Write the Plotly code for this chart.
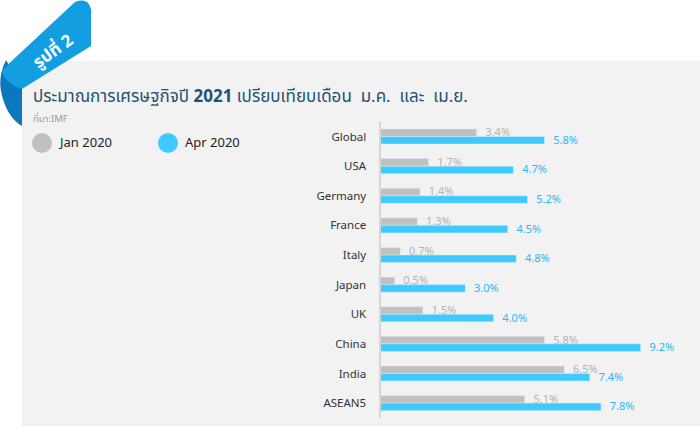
import plotly.graph_objects as go

W, H = 700, 426

countries = ["Global", "USA", "Germany", "France", "Italy",
             "Japan", "UK", "China", "India", "ASEAN5"]
jan_2020 = [3.4, 1.7, 1.4, 1.3, 0.7, 0.5, 1.5, 5.8, 6.5, 5.1]
apr_2020 = [5.8, 4.7, 5.2, 4.5, 4.8, 3.0, 4.0, 9.2, 7.4, 7.8]

GRAY = "#c0c0c0"
BLUE = "#3fcaff"
FONT = "Noto Sans Thai, Noto Sans, Roboto, sans-serif"


def px(x, y):
    # pixel position -> paper coords (margins are zero)
    return x / W, 1 - y / H


def path(points):
    out = []
    for cmd, pts in points:
        coords = " ".join("%.4f,%.4f" % px(*p) for p in pts)
        out.append(cmd + " " + coords)
    return " ".join(out) + " Z"


fig = go.Figure()

fig.add_trace(go.Bar(
    y=countries, x=jan_2020, orientation="h", name="Jan 2020",
    marker_color=GRAY,
    text=["  %.1f%%" % v for v in jan_2020], textposition="outside",
    textfont=dict(color="#b3b3b3", size=11, family=FONT),
    constraintext="none", cliponaxis=False, hoverinfo="none",
))
fig.add_trace(go.Bar(
    y=countries, x=apr_2020, orientation="h", name="Apr 2020",
    marker_color=BLUE,
    text=["  %.1f%%" % v for v in apr_2020], textposition="outside",
    textfont=dict(color="#2ab8f2", size=11, family=FONT),
    constraintext="none", cliponaxis=False, hoverinfo="none",
))

x0, x1 = px(380.5, 0)[0], px(691.6, 0)[0]
ytop, ybot = px(0, 121.7)[1], px(0, 417.9)[1]

fig.update_layout(
    width=W, height=H,
    margin=dict(l=0, r=0, t=0, b=0),
    paper_bgcolor="white", plot_bgcolor="rgba(0,0,0,0)",
    barmode="group", bargap=0.49, bargroupgap=0,
    showlegend=False,
    font=dict(family=FONT, color="#333333"),
    xaxis=dict(domain=[x0, x1], range=[0, 11], visible=False, fixedrange=True),
    yaxis=dict(domain=[ybot, ytop], autorange="reversed", showgrid=False,
               showline=True, linecolor="#d6d6d6", linewidth=2,
               ticks="", ticklabelstandoff=10, fixedrange=True,
               tickfont=dict(size=11.5, color="#333333", family=FONT)),
)

shapes = []
# gray panel
shapes.append(dict(type="rect", xref="paper", yref="paper", layer="below",
                   x0=px(22, 0)[0], x1=1, y0=0, y1=px(0, 61)[1],
                   fillcolor="#f2f2f2", line_width=0))
# ribbon curl (darker back part)
shapes.append(dict(type="path", xref="paper", yref="paper",
                   path=path([("M", [(6, 60)]),
                              ("Q", [(-3, 78), (2, 96)]),
                              ("Q", [(8, 118), (22, 126)]),
                              ("L", [(22, 88)])]),
                   fillcolor="#0b78bd", line_width=0))
# ribbon front band
shapes.append(dict(type="path", xref="paper", yref="paper",
                   path=path([("M", [(75, 2)]),
                              ("Q", [(88, -3), (91, 9)]),
                              ("L", [(91, 46)]),
                              ("L", [(22, 89)]),
                              ("Q", [(3, 82), (2, 70)]),
                              ]),
                   fillcolor="#139ee2", line_width=0))
# legend dots
for cx, col in [(42, GRAY), (168, BLUE)]:
    a, b = px(cx - 10, 133), px(cx + 10, 153)
    shapes.append(dict(type="circle", xref="paper", yref="paper",
                       x0=a[0], y0=b[1], x1=b[0], y1=a[1],
                       fillcolor=col, line_width=0))
fig.update_layout(shapes=shapes)


def note(x, y, text, size, color, anchor="left", angle=0, **kw):
    xx, yy = px(x, y)
    fig.add_annotation(xref="paper", yref="paper", x=xx, y=yy, text=text,
                       showarrow=False, xanchor=anchor, yanchor="middle",
                       textangle=angle,
                       font=dict(size=size, color=color, family=FONT), **kw)


note(53, 52, "<b>รูปที่ 2</b>", 17, "white", anchor="center", angle=-36)
note(31, 97, "ประมาณการเศรษฐกิจปี <b>2021</b> เปรียบเทียบเดือน  ม.ค.  และ  เม.ย.",
     17, "#1d5374")
note(31, 119, "ที่มา:IMF", 9.5, "#9a9a9a")
note(56, 143, "Jan 2020", 13, "#222222")
note(183, 143, "Apr 2020", 13, "#222222")

fig.write_html("out.html", config={"displayModeBar": False},
               post_script="document.body.style.margin='0';")
